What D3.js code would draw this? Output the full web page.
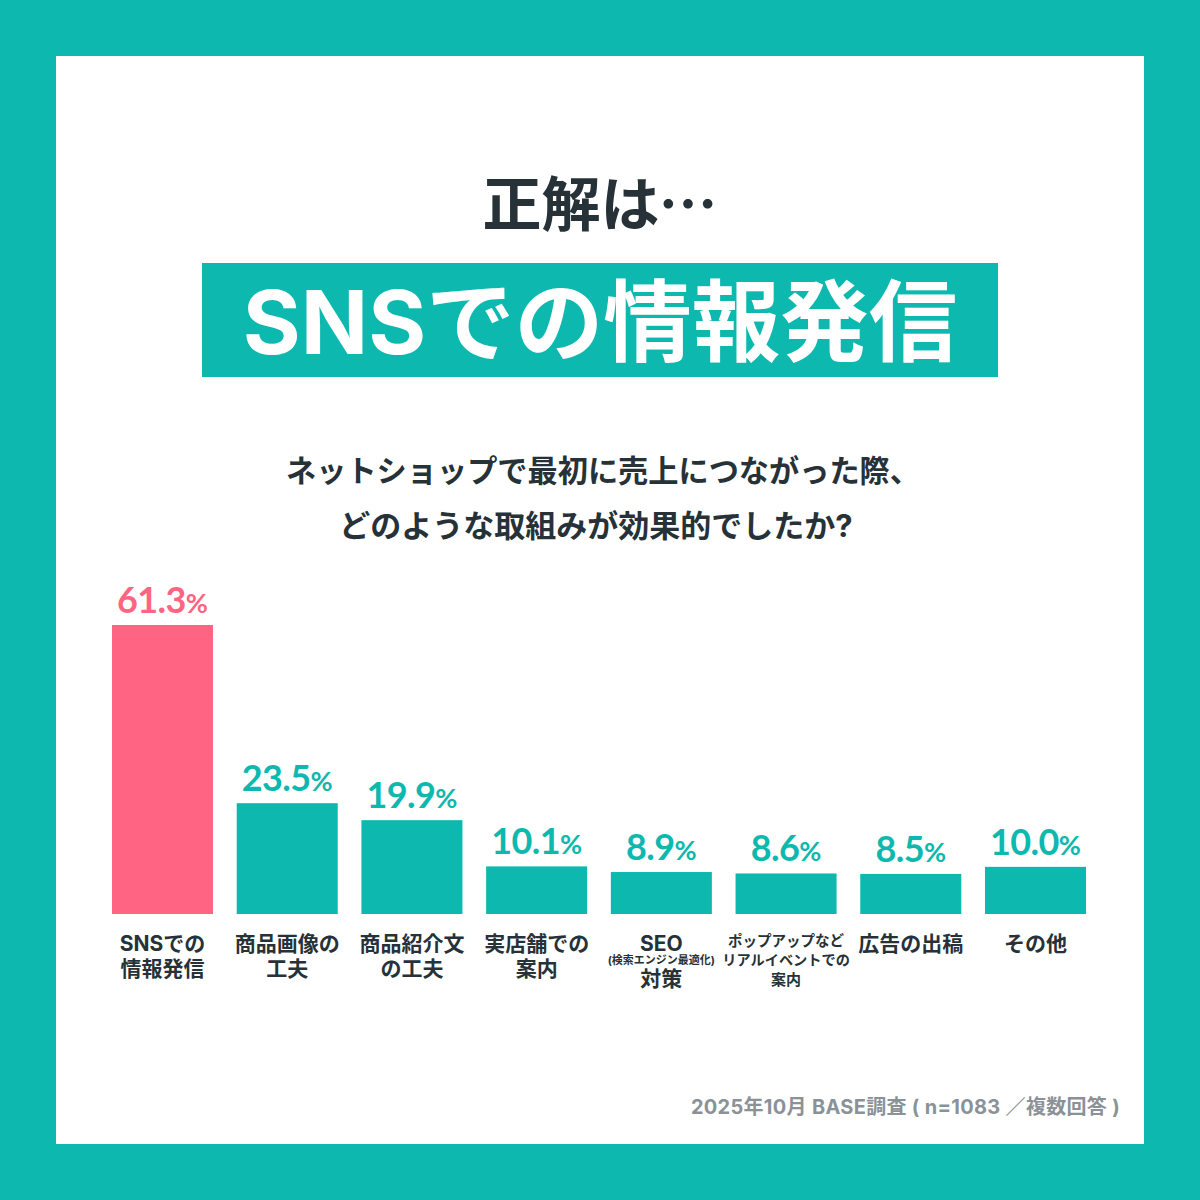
<!DOCTYPE html>
<html lang="ja">
<head>
<meta charset="utf-8">
<script src="https://cdn.jsdelivr.net/npm/d3@7"></script>
<style>
  html, body { margin: 0; padding: 0; background: #fff; }
  svg { display: block; }
  text { font-family: Inter, "Noto Sans CJK JP", sans-serif; font-weight: 700; }
</style>
</head>
<body>
<div id="chart"></div>
<script>
const categories = ["sns", "image", "copy", "store", "seo", "popup", "ads", "other"];
const values = [61.3, 23.5, 19.9, 10.1, 8.9, 8.6, 8.5, 10.0];
const valueLabels = ["61.3", "23.5", "19.9", "10.1", "8.9", "8.6", "8.5", "10.0"];
const categoryLines = [
  [["SNSでの", 21], ["情報発信", 21]],
  [["商品画像の", 21], ["工夫", 21]],
  [["商品紹介文", 21], ["の工夫", 21]],
  [["実店舗での", 21], ["案内", 21]],
  [["SEO", 21], ["(検索エンジン最適化)", 11], ["対策", 21]],
  [["ポップアップなど", 14.5], ["リアルイベントでの", 14.2], ["案内", 15]],
  [["広告の出稿", 21]],
  [["その他", 21]]
];
const lineYs = [
  [951, 976],
  [951, 976],
  [951, 976],
  [951, 976],
  [951, 964, 986],
  [946, 965, 985],
  [951],
  [951]
];

const teal = "#0db8ae";
const pink = "#ff6482";
const ink = "#263238";

const svg = d3.select("#chart")
  .append("svg")
  .attr("width", 1200)
  .attr("height", 1200)
  .attr("viewBox", "0 0 1200 1200");

svg.append("rect").attr("width", 1200).attr("height", 1200).attr("fill", teal);
svg.append("rect").attr("x", 56).attr("y", 56).attr("width", 1088).attr("height", 1088).attr("fill", "#fff");

const heading = svg.append("text")
  .attr("x", 571).attr("y", 226)
  .attr("text-anchor", "middle")
  .attr("font-size", 59)
  .attr("fill", ink);
heading.append("tspan").text("正解は");
heading.append("tspan")
  .attr("x", 688)
  .style("font-family", "'Noto Sans CJK JP'")
  .text("…");

svg.append("rect").attr("x", 202).attr("y", 263).attr("width", 796).attr("height", 114).attr("fill", teal);
svg.append("text")
  .attr("x", 600).attr("y", 354)
  .attr("text-anchor", "middle")
  .attr("font-size", 88.5)
  .attr("fill", "#fff")
  .text("SNSでの情報発信");

svg.append("text")
  .attr("x", 603).attr("y", 482)
  .attr("text-anchor", "middle")
  .attr("font-size", 30.2)
  .attr("fill", ink)
  .text("ネットショップで最初に売上につながった際、");
svg.append("text")
  .attr("x", 596).attr("y", 537)
  .attr("text-anchor", "middle")
  .attr("font-size", 31)
  .attr("fill", ink)
  .text("どのような取組みが効果的でしたか?");

const xScale = d3.scaleBand()
  .domain(categories)
  .range([112, 1086])
  .paddingInner(0.19)
  .paddingOuter(0);

const yScale = d3.scaleLinear()
  .domain([0, 61.3])
  .range([914, 625]);

const data = categories.map((c, i) => ({ c, i, v: values[i], label: valueLabels[i] }));

svg.append("g")
  .selectAll("rect")
  .data(data)
  .enter()
  .append("rect")
  .attr("x", d => xScale(d.c))
  .attr("y", d => yScale(d.v))
  .attr("width", xScale.bandwidth())
  .attr("height", d => yScale(0) - yScale(d.v))
  .attr("fill", d => d.i === 0 ? pink : teal);

const valueText = svg.append("g")
  .selectAll("text")
  .data(data)
  .enter()
  .append("text")
  .attr("x", d => xScale(d.c) + xScale.bandwidth() / 2)
  .attr("y", d => yScale(d.v) - 12)
  .attr("text-anchor", "middle")
  .attr("fill", d => d.i === 0 ? pink : teal)
  .style("font-family", "Lato, sans-serif")
  .style("font-weight", 700)
  .attr("font-size", 36);
valueText.append("tspan").attr("letter-spacing", -0.6).text(d => d.label);
valueText.append("tspan").attr("font-size", 27).text("%");

const catGroups = svg.append("g")
  .selectAll("g")
  .data(data)
  .enter()
  .append("g");

catGroups.each(function(d) {
  d3.select(this)
    .selectAll("text")
    .data(categoryLines[d.i])
    .enter()
    .append("text")
    .attr("x", xScale(d.c) + xScale.bandwidth() / 2)
    .attr("y", (l, j) => lineYs[d.i][j])
    .attr("text-anchor", "middle")
    .attr("fill", ink)
    .attr("font-size", l => l[1])
    .text(l => l[0]);
});

svg.append("text")
  .attr("x", 1120).attr("y", 1114)
  .attr("text-anchor", "end")
  .attr("font-size", 20)
  .attr("letter-spacing", 0.3)
  .attr("fill", "#8a9298")
  .text("2025年10月 BASE調査 ( n=1083 ／複数回答 )");
</script>
</body>
</html>
